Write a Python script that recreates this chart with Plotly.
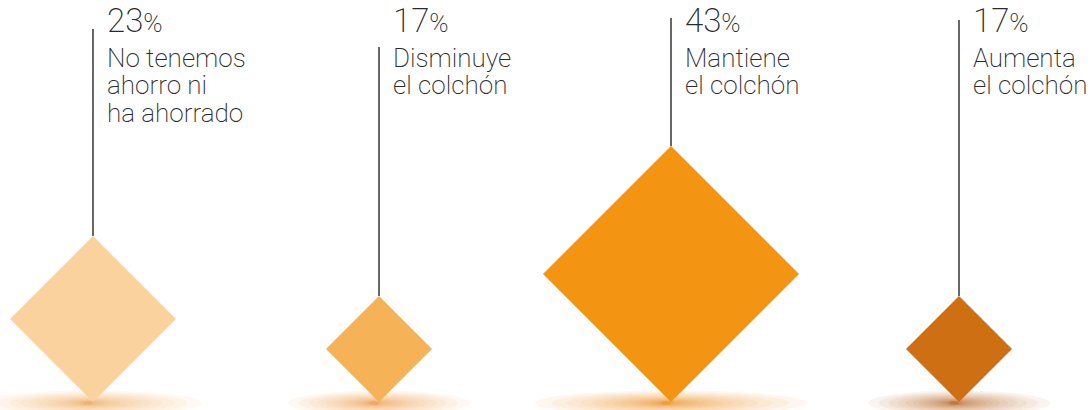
import numpy as np
import plotly.graph_objects as go

# Survey answers: share of respondents per savings situation
percentages = [23, 17, 43, 17]
labels = [
    ["No tenemos", "ahorro ni", "ha ahorrado"],
    ["Disminuye", "el colchón"],
    ["Mantiene", "el colchón"],
    ["Aumenta", "el colchón"],
]
colors = ["#FAD29D", "#F6B256", "#F39412", "#CD6F12"]
glow_colors = ["#F0A050", "#F09A38", "#EE8A10", "#B85A0E"]

# Layout in page pixels (y grows downward)
W, H = 1092, 410
centers_x = [93, 379, 671, 959]
line_tops = [29, 47, 18, 20]
base_y = 402
text_dx = 13
FONT = "Roboto"
TEXT_COLOR = "#2a2a2a"


def half_diagonal(v):
    # size scale for the diamonds (half of the diagonal, in px)
    return 48.37 * np.log(v - 10) - 41.12


fig = go.Figure()
shapes = []
annotations = []

for i, (pct, lab, col) in enumerate(zip(percentages, labels, colors)):
    cx = centers_x[i]
    h = half_diagonal(pct)
    top = base_y - 2 * h

    # soft glow under the tip: stacked translucent ellipses, denser at the core
    rx_max = 0.6 * h + 55
    n = 22
    for k in range(n):
        f = ((n - k) / n) ** 3
        rx = rx_max * f + 4
        ry = 11 * f + 1.5
        ox = -5 * (1 - f)
        shapes.append(dict(
            type="circle", xref="x", yref="y", layer="below",
            x0=cx + ox - rx, x1=cx + ox + rx,
            y0=base_y + 1 - ry, y1=base_y + 1 + ry,
            fillcolor=glow_colors[i], opacity=0.065, line=dict(width=0),
        ))

    # diamond
    fig.add_trace(go.Scatter(
        x=[cx, cx + h, cx, cx - h, cx],
        y=[top, base_y - h, base_y, base_y - h, top],
        mode="lines", fill="toself", fillcolor=col,
        line=dict(width=0, color=col), hoverinfo="skip", showlegend=False,
    ))

    # leader line
    fig.add_trace(go.Scatter(
        x=[cx, cx], y=[line_tops[i], top],
        mode="lines", line=dict(color="#000000", width=1.2),
        hoverinfo="skip", showlegend=False,
    ))

    # value
    annotations.append(dict(
        x=cx + text_dx - 1, y=42, xref="x", yref="y",
        xanchor="left", yanchor="bottom", showarrow=False,
        text=f"{pct}<span style='font-size:26px'>%</span>",
        font=dict(family=FONT, size=33, color=TEXT_COLOR, weight=200),
    ))
    # description lines
    for j, line in enumerate(lab):
        annotations.append(dict(
            x=cx + text_dx - 1, y=74.5 + 27.5 * j, xref="x", yref="y",
            xanchor="left", yanchor="bottom", showarrow=False,
            text=line,
            font=dict(family=FONT, size=26, color=TEXT_COLOR, weight=200),
        ))

fig.update_layout(
    width=W, height=H,
    margin=dict(l=0, r=0, t=0, b=0),
    paper_bgcolor="white", plot_bgcolor="white",
    xaxis=dict(range=[0, W], visible=False, fixedrange=True),
    yaxis=dict(range=[H, 0], visible=False, fixedrange=True),
    shapes=shapes, annotations=annotations,
    showlegend=False,
)

fig.write_html("out.html")
